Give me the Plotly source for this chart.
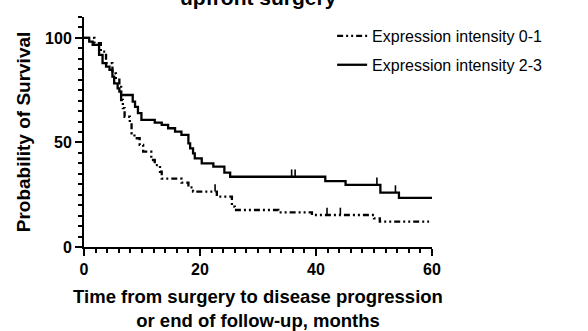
import plotly.graph_objects as go

# Expression intensity 0-1 (dash-dot-dot)
t_low = [0, 1.8, 2.9, 3.8, 4.9, 5.5, 6.1, 6.4, 6.7, 7.0, 7.9, 8.2, 8.7, 9.6, 10.2, 11.6, 12.2,
         13.1, 13.4, 16.8, 18.0, 18.8, 22.9, 25.5, 26.0, 33.5, 39.3, 50.0, 51.0, 59.5]
s_low = [100, 97.5, 93.4, 87.9, 83, 80, 77.5, 70.3, 66.4, 62.3, 59.2, 54.4, 52, 48.8, 45.6, 41.6, 39.2,
         36, 32.7, 30.8, 28.5, 26.5, 24.1, 19.3, 17.7, 16.6, 15.3, 13.7, 12.1, 12.1]
cens_low = [22.6, 41.9, 44.2]

# Expression intensity 2-3 (solid)
t_high = [0, 0.9, 1.5, 2.6, 3.2, 3.8, 4.4, 4.9, 5.2, 5.8, 6.1, 6.4, 8.4, 8.8, 9.3, 9.9, 12.2, 13.4,
          14.5, 15.7, 16.8, 18.0, 18.3, 18.8, 19.1, 20.3, 22.3, 24.2, 25.2, 41.6, 45.1, 51.1, 54.3, 60]
s_high = [100, 98.2, 96.7, 91.9, 87.9, 86.3, 84.7, 81.5, 78.3, 75.9, 74.3, 72.7, 69.5, 67, 64, 60.8, 59.5, 58.4,
          56.8, 55.2, 53.6, 49.6, 47.2, 44.8, 42.4, 40, 38.4, 35.6, 33.6, 31.5, 29.7, 26, 23.5, 23.5]
cens_high = [35.8, 36.4, 50.5, 53.7]

x_ticks = [0, 20, 40, 60]
y_ticks = [0, 50, 100]


def surv_at(ts, ss, t):
    v = ss[0]
    for ti, si in zip(ts, ss):
        if ti <= t:
            v = si
    return v


FONT = "Liberation Sans, Arial, sans-serif"
fig = go.Figure()

series = [
    ("Expression intensity 0-1", t_low, s_low, cens_low, "6px,3px,2px,3px,2px,3px"),
    ("Expression intensity 2-3", t_high, s_high, cens_high, "solid"),
]
for i, (name, ts, ss, cs, dash) in enumerate(series):
    fig.add_trace(go.Scatter(
        x=ts, y=ss, mode="lines", name=name, line_shape="hv",
        line=dict(color="black", width=2.3, dash=dash),
        legendgroup=f"g{i}",
    ))
    fig.add_trace(go.Scatter(
        x=cs, y=[surv_at(ts, ss, c) for c in cs], mode="markers",
        marker=dict(size=1, color="rgba(0,0,0,0)"),
        error_y=dict(type="data", symmetric=False, array=[3.5] * len(cs),
                     arrayminus=[0] * len(cs), width=0, thickness=1.6, color="black"),
        showlegend=False, legendgroup=f"g{i}", hoverinfo="skip",
    ))

fig.update_layout(
    width=588, height=331,
    margin=dict(l=84, r=156, t=17, b=84),
    plot_bgcolor="white", paper_bgcolor="white",
    font=dict(family=FONT, color="black"),
    showlegend=True,
    legend=dict(x=0.713, y=0.991, xanchor="left", yanchor="top",
                font=dict(size=16, family=FONT), tracegroupgap=5,
                bgcolor="rgba(0,0,0,0)"),
    annotations=[
        dict(text="<b>upfront surgery</b>", x=0.5, y=1.0, xref="paper", yref="paper",
             xanchor="center", yanchor="bottom", yshift=6, showarrow=False,
             font=dict(size=21, family=FONT)),
    ],
)
fig.update_xaxes(
    range=[0, 60], tickvals=x_ticks, ticktext=[f"<b>{v}</b>" for v in x_ticks],
    showgrid=False, zeroline=False, showline=True, linecolor="black", linewidth=2,
    ticks="outside", ticklen=7, tickwidth=2, tickcolor="black",
    tickfont=dict(size=16, family=FONT), automargin=False,
    minor=dict(dtick=2, ticks="outside", ticklen=4, tickwidth=1.5, tickcolor="black"),
    title=dict(text="<b>Time from surgery to disease progression<br>or end of follow-up, months</b>",
               font=dict(size=18.5, family=FONT), standoff=13),
)
fig.update_yaxes(
    range=[0, 110], tickvals=y_ticks, ticktext=[f"<b>{v}</b>" for v in y_ticks],
    showgrid=False, zeroline=False, showline=True, linecolor="black", linewidth=2,
    ticks="outside", ticklen=7, tickwidth=2, tickcolor="black",
    tickfont=dict(size=16, family=FONT), automargin=False,
    minor=dict(dtick=5, ticks="outside", ticklen=4, tickwidth=1.5, tickcolor="black"),
    title=dict(text="<b>Probability of Survival</b>", font=dict(size=19, family=FONT), standoff=9),
)

fig.write_html("out.html", config={"displayModeBar": False},
               post_script="document.body.style.margin='0';")
